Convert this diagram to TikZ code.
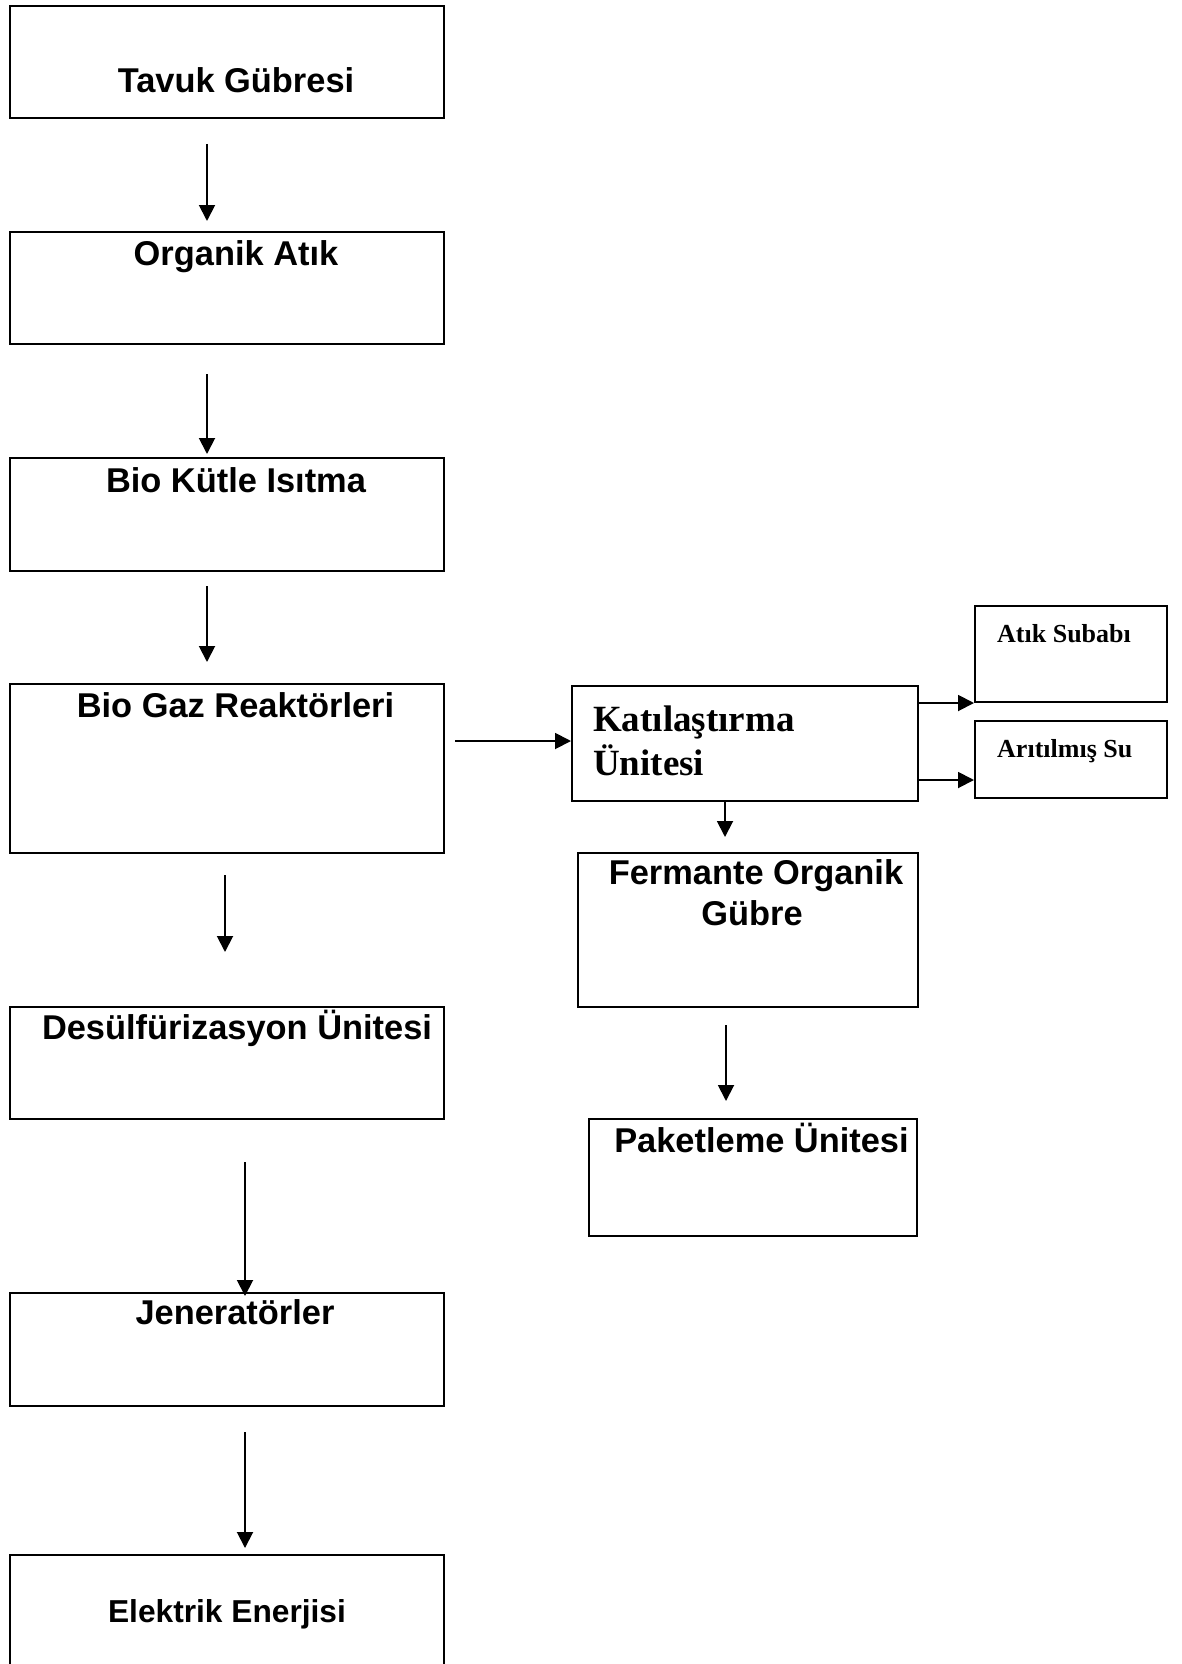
\documentclass[tikz,border=0pt]{standalone}
\usepackage{fontspec}
\setmainfont{Liberation Sans}
\newfontfamily\tnr{Liberation Serif}
\usetikzlibrary{arrows.meta}
\tikzset{
  box/.style={draw=black, line width=2pt, fill=none, inner sep=0pt},
  lbl/.style={inner sep=0pt, font=\fontsize{34.4}{40}\selectfont\bfseries},
  tlbig/.style={inner sep=0pt, font=\fontsize{37}{44}\selectfont\tnr\bfseries},
  tlsmall/.style={inner sep=0pt, font=\fontsize{26}{30}\selectfont\tnr\bfseries},
  arr/.style={line width=1.9pt, -{Triangle[width=16pt,length=16pt]}}
}
\begin{document}
\begin{tikzpicture}[x=1pt, y=-1pt]
\useasboundingbox[fill=white] (0,0) rectangle (1181,1664);

% left column boxes
\node[box, minimum width=434pt, minimum height=112pt] (b1) at (227,62) {};
\node[box, minimum width=434pt, minimum height=112pt] (b2) at (227,288) {};
\node[box, minimum width=434pt, minimum height=113pt] (b3) at (227,514.5) {};
\node[box, minimum width=434pt, minimum height=169pt] (b4) at (227,768.5) {};
\node[box, minimum width=434pt, minimum height=112pt] (b5) at (227,1063) {};
\node[box, minimum width=434pt, minimum height=113pt] (b6) at (227,1349.5) {};
\node[box, minimum width=434pt, minimum height=130pt] (b7) at (227,1620) {};

% right column boxes
\node[box, minimum width=346pt, minimum height=115pt] (kat) at (745,743.5) {};
\node[box, minimum width=192pt, minimum height=96pt] (atik) at (1071,654) {};
\node[box, minimum width=192pt, minimum height=77pt] (arit) at (1071,759.5) {};
\node[box, minimum width=340pt, minimum height=154pt] (ferm) at (748,930) {};
\node[box, minimum width=328pt, minimum height=117pt] (pak) at (753,1177.5) {};

% texts
\node[lbl, anchor=base] (t1) at (236,93) {Tavuk Gübresi};
\node[lbl, anchor=base] (t2) at (236,265) {Organik Atık};
\node[lbl, anchor=base] (t3) at (236,492) {Bio Kütle Isıtma};
\node[lbl, anchor=base] (t4) at (235.5,717) {Bio Gaz Reaktörleri};
\node[lbl, anchor=base] (t5) at (237,1039) {Desülfürizasyon Ünitesi};
\node[lbl, anchor=base] (t6) at (235,1324) {Jeneratörler};
\node[lbl, anchor=base, font=\fontsize{31.7}{38}\selectfont\bfseries] (t7) at (227,1622) {Elektrik Enerjisi};

\node[tlbig, anchor=base west] (tk1) at (593,731) {Katılaştırma};
\node[tlbig, anchor=base west] (tk2) at (593,775) {Ünitesi};
\node[tlsmall, anchor=base west] (ta) at (997,642) {Atık Subabı};
\node[tlsmall, anchor=base west] (tr) at (997,757) {Arıtılmış Su};
\node[lbl, anchor=base] (tf1) at (756,884) {Fermante Organik};
\node[lbl, anchor=base] (tf2) at (752,925) {Gübre};
\node[lbl, anchor=base] (tp) at (761.5,1152) {Paketleme Ünitesi};

% arrow end points
\coordinate (a1s) at (207,144);  \coordinate (a1e) at (207,221);
\coordinate (a2s) at (207,374);  \coordinate (a2e) at (207,454);
\coordinate (a3s) at (207,586);  \coordinate (a3e) at (207,662);
\coordinate (a4s) at (225,875);  \coordinate (a4e) at (225,952);
\coordinate (a5s) at (245,1162); \coordinate (a5e) at (245,1296);
\coordinate (a6s) at (245,1432); \coordinate (a6e) at (245,1548);
\coordinate (hs) at (455,741);
\coordinate (d1s) at (725,801);  \coordinate (d1e) at (725,837);
\coordinate (d2s) at (726,1025); \coordinate (d2e) at (726,1101);

% connectors
\draw[arr] (a1s) -- (a1e);
\draw[arr] (a2s) -- (a2e);
\draw[arr] (a3s) -- (a3e);
\draw[arr] (a4s) -- (a4e);
\draw[arr] (a5s) -- (a5e);
\draw[arr] (a6s) -- (a6e);
\draw[arr] (hs) -- (hs -| kat.west);
\draw[arr] (kat.east |- atik.south) -- (atik.south west);
\draw[arr] (kat.east |- 0,780) -- (arit.west |- 0,780);
\draw[arr] (d1s) -- (d1e);
\draw[arr] (d2s) -- (d2e);
\end{tikzpicture}
\end{document}
